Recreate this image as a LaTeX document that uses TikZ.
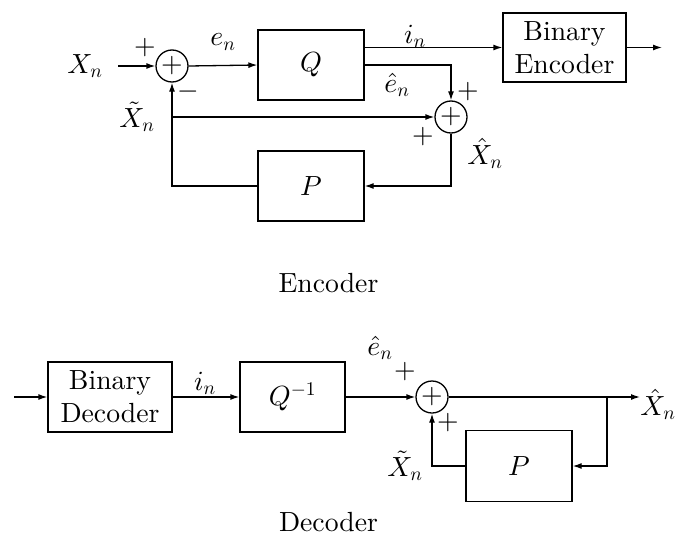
\documentclass[tikz,border=0pt]{standalone}
\usepackage{fontspec}
\setmainfont{lmroman10-regular}[Extension=.otf]
\DeclareFontShape{OML}{cmm}{m}{it}{<->cmmi10}{\skewchar\font'177}
\DeclareFontShape{OMS}{cmsy}{m}{n}{<->cmsy10}{\skewchar\font'60}
\DeclareFontShape{OT1}{cmr}{m}{n}{<->cmr10}{}
\usetikzlibrary{arrows.meta,calc}
\begin{document}
\begin{tikzpicture}[x=1pt,y=-1pt,
  every node/.style={font=\fontsize{27.7}{35}\selectfont},
  blk/.style={draw,line width=1.3pt,inner sep=0pt,minimum width=106pt,minimum height=70pt,align=center},
  sumnode/.style={draw,circle,line width=1.3pt,inner sep=0pt,minimum size=32pt},
  lbl/.style={inner sep=0pt},
  conn/.style={line width=1.3pt},
  arr/.style={conn,-{Latex[length=9pt,width=6pt]}}]
\useasboundingbox (0,0) rectangle (676,535);
% ---------- Encoder ----------
\node[sumnode] (s1) at (172,66) {$+$};
\node[blk] (Q) at (311,65) {$Q$};
\node[blk,minimum width=123pt,minimum height=69pt] (BE) at (564.5,47.5) {Binary\\[-2pt]Encoder};
\node[sumnode] (s2) at (451,117) {$+$};
\node[blk] (P1) at (311,186) {$P$};
\coordinate (in1) at (118,66);
\coordinate (out1) at (662,47.5);
\coordinate (br1) at (s1.south |- s2.west);
\draw[arr] (in1) -- (s1.west);
\draw[arr] (s1.east) -- (Q.west);
\draw[arr] (Q.east |- BE.west) -- (BE.west);
\draw[arr] (BE.east) -- (out1);
\draw[arr] (Q.east) -| (s2.north);
\draw[arr] (br1) -- (s2.west);
\draw[arr] (s2.south) |- (P1.east);
\draw[arr] (P1.west) -| (s1.south);
\node[lbl] (lx) at (85,66) {$X_n$};
\node[lbl] (len) at (223,42) {$e_n$};
\node[lbl] (lin) at (415,36) {$i_n$};
\node[lbl] (lehat) at (397,85) {$\hat{e}_n$};
\node[lbl] (lxt) at (137,117) {$\tilde{X}_n$};
\node[lbl] (lxh) at (485,153) {$\hat{X}_n$};
\node[lbl] (p1) at (145,48) {$+$};
\node[lbl] (m1) at (188,92) {$-$};
\node[lbl] (p2) at (468,92) {$+$};
\node[lbl] (p3) at (423,137) {$+$};
\node[lbl,anchor=base] (capE) at (328.5,292) {Encoder};
% ---------- Decoder ----------
\node[blk,minimum width=124pt] (BD) at (110,397) {Binary\\[-2pt]Decoder};
\node[blk,minimum width=105pt] (Qi) at (292.5,397) {$Q^{-1}$};
\node[sumnode] (s3) at (432,397) {$+$};
\node[blk,minimum height=71pt] (P2) at (519,466) {$P$};
\coordinate (in2) at (14,397);
\coordinate (out2) at (640,397);
\coordinate (br2) at (607,397);
\draw[arr] (in2) -- (BD.west);
\draw[arr] (BD.east) -- (Qi.west);
\draw[arr] (Qi.east) -- (s3.west);
\draw[arr] (s3.east) -- (out2);
\draw[arr] (br2) |- (P2.east);
\draw[arr] (P2.west) -| (s3.south);
\node[lbl] (din) at (205,383) {$i_n$};
\node[lbl] (dehat) at (380,348) {$\hat{e}_n$};
\node[lbl] (dp1) at (405,372) {$+$};
\node[lbl] (dp2) at (448,423) {$+$};
\node[lbl] (dxh) at (658,404) {$\hat{X}_n$};
\node[lbl] (dxt) at (405,466) {$\tilde{X}_n$};
\node[lbl,anchor=base] (capD) at (328.5,531) {Decoder};
\end{tikzpicture}
\end{document}
